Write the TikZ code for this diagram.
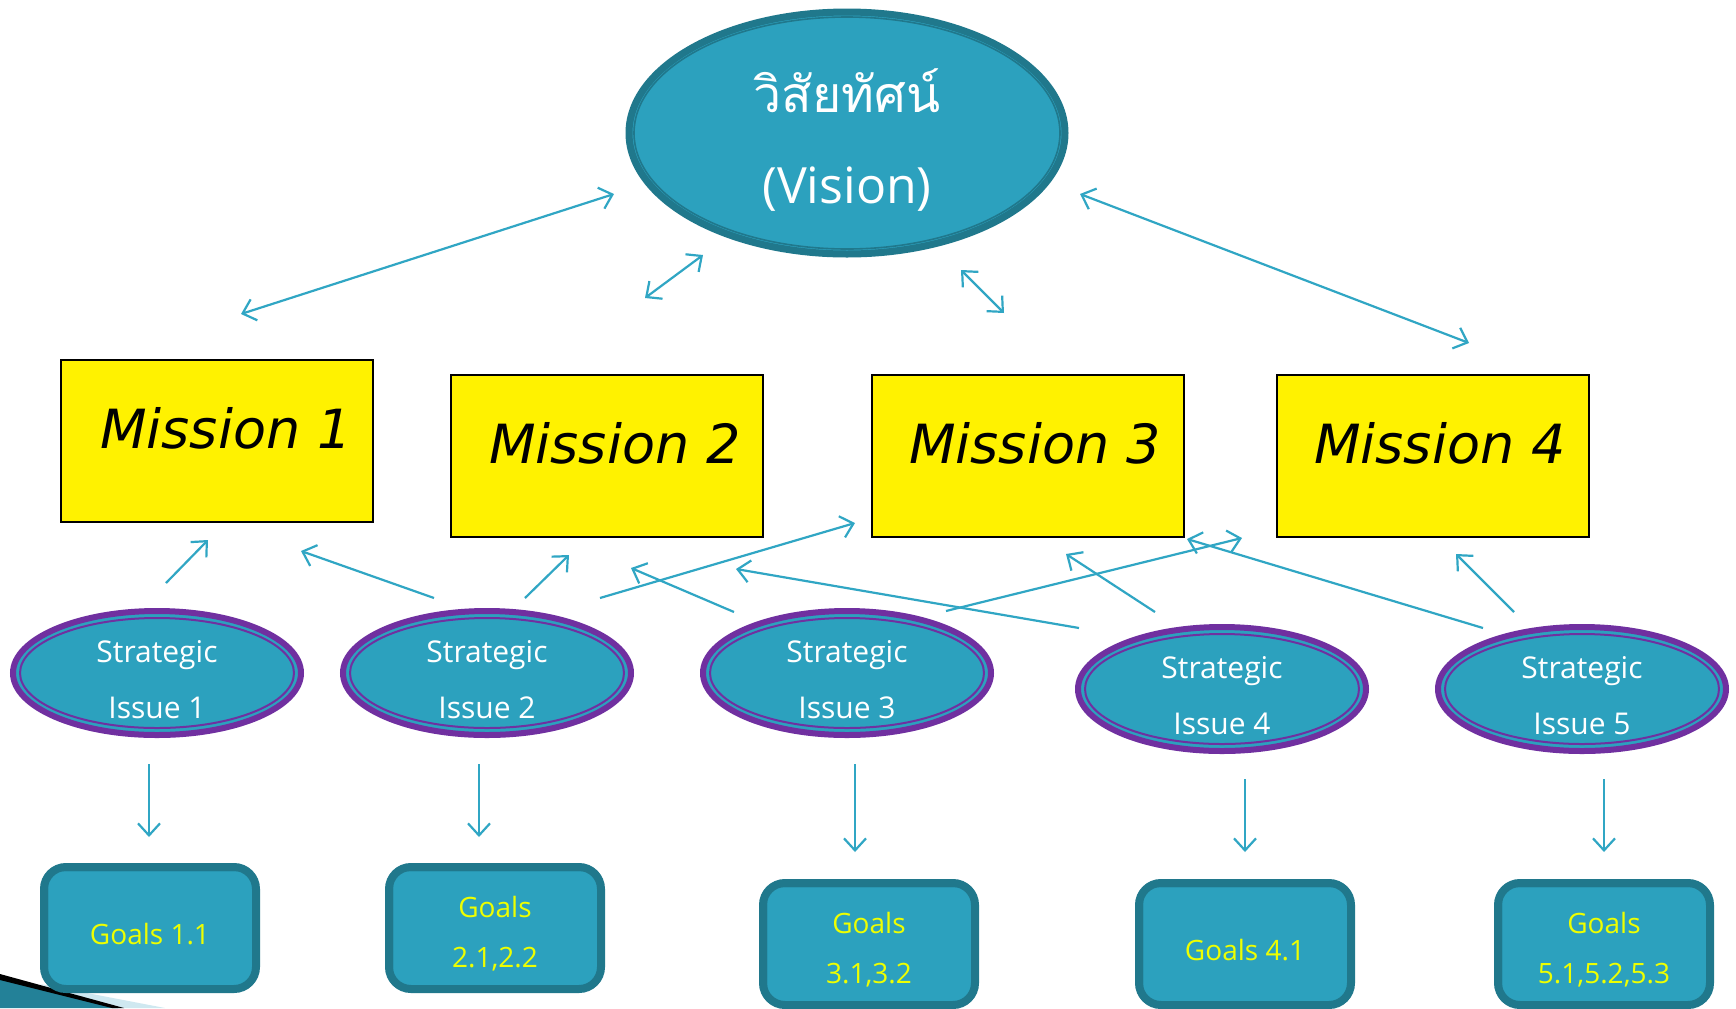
\documentclass[tikz,border=0pt]{standalone}
\usepackage{fontspec}
\setmainfont{Open Sans}
\newfontfamily\thaifont[Script=Thai]{Loma}
\newfontfamily\missionfont{DejaVu Sans}
\usetikzlibrary{shapes.geometric,arrows.meta}
\definecolor{tealfill}{HTML}{2CA1BE}
\definecolor{tealdark}{HTML}{20788C}
\definecolor{purp}{HTML}{7030A0}
\definecolor{arrcol}{HTML}{30A6C4}
\definecolor{goalyellow}{HTML}{EEFF00}
\definecolor{lightblue}{HTML}{CFE8F0}
\tikzset{
  visell/.style={ellipse, draw=tealdark, fill=tealfill, line width=3.5pt, inner sep=0pt,
    minimum width=218pt, minimum height=121pt},
  vistext/.style={text=white, inner sep=0pt},
  mbox/.style={rectangle, draw=black, fill=yellow, line width=1pt, inner sep=0pt,
    minimum width=156pt, minimum height=81pt},
  mtext/.style={font=\missionfont\itshape\fontsize{27pt}{30pt}\selectfont, text=black, inner sep=0pt},
  siell/.style={ellipse, draw=purp, fill=tealfill, line width=3pt, inner sep=0pt,
    minimum width=144pt, minimum height=62pt},
  sitext/.style={text=white, align=center, inner sep=0pt,
    font=\fontsize{15pt}{28pt}\selectfont},
  siinner/.style={draw=purp, line width=1pt},
  gbox/.style={rectangle, rounded corners=11pt, draw=tealdark, fill=tealfill, line width=4pt,
    inner sep=0pt, minimum width=106pt, minimum height=61pt},
  gtext/.style={text=goalyellow, align=center, inner sep=0pt,
    font=\fontsize{14pt}{25pt}\selectfont},
  ginner/.style={draw=tealdark, line width=1pt, rounded corners=7pt},
  conn/.style={draw=arrcol, line width=1.1pt, -{Straight Barb[length=6pt,width=11pt]}},
  biconn/.style={conn, {Straight Barb[length=6pt,width=11pt]}-{Straight Barb[length=6pt,width=11pt]}},
}
\begin{document}
\begin{tikzpicture}[x=0.5pt,y=-0.5pt]
\useasboundingbox (0,0) rectangle (1736,1008);
\fill[white] (0,0) rectangle (1736,1008);

% bottom-left decoration
\fill[lightblue] (40,984) -- (165,1008) -- (100,1008) -- cycle;
\fill[tealfill!80!black] (0,978) -- (118,1008) -- (0,1008) -- cycle;
\fill[black] (0,974) -- (124,1008) -- (112,1008) -- (0,980) -- cycle;

% Vision
\node[visell] (vision) at (847,133) {};
\draw[tealdark, line width=0.8pt] (vision.center) ellipse [x radius=213, y radius=116];
\node[vistext, font=\thaifont\fontsize{25pt}{30pt}\selectfont] (visth) at (847,91) {วิสัยทัศน์};
\node[vistext, font=\fontsize{25pt}{30pt}\selectfont] (visen) at (847,189) {(Vision)};

% Missions
\node[mbox] (m1) at (217,441) {};
\node[mbox] (m2) at (606.5,456) {};
\node[mbox] (m3) at (1027.5,456) {};
\node[mbox] (m4) at (1432.5,456) {};
\node[mtext] (m1t) at (226,428) {Mission 1};
\node[mtext] (m2t) at (615,443) {Mission 2};
\node[mtext] (m3t) at (1035,443) {Mission 3};
\node[mtext] (m4t) at (1440,443) {Mission 4};

% Strategic issues
\node[siell] (s1) at (157,673) {};
\node[siell] (s2) at (487,673) {};
\node[siell] (s3) at (847,673) {};
\node[siell] (s4) at (1222,689) {};
\node[siell] (s5) at (1582,689) {};
\foreach \s in {s1,s2,s3,s4,s5}{
  \draw[siinner] (\s.center) ellipse [x radius=137, y radius=55];
}
\node[sitext] (s1t) at (157,680) {Strategic\\Issue 1};
\node[sitext] (s2t) at (487,680) {Strategic\\Issue 2};
\node[sitext] (s3t) at (847,680) {Strategic\\Issue 3};
\node[sitext] (s4t) at (1222,696) {Strategic\\Issue 4};
\node[sitext] (s5t) at (1582,696) {Strategic\\Issue 5};

% Goals
\node[gbox] (g1) at (150,928) {};
\node[gbox] (g2) at (495,928) {};
\node[gbox] (g3) at (869,944) {};
\node[gbox] (g4) at (1245,944) {};
\node[gbox] (g5) at (1604,944) {};
\foreach \g in {g1,g2,g3,g4,g5}{
  \draw[ginner] ([shift={(7,7)}]\g.north west) rectangle ([shift={(-7,-7)}]\g.south east);
}
\node[gtext] (g1t) at (150,934) {Goals 1.1};
\node[gtext] (g2t) at (495,934) {Goals\\2.1,2.2};
\node[gtext] (g3t) at (869,950) {Goals\\3.1,3.2};
\node[gtext] (g4t) at (1245,950) {Goals 4.1};
\node[gtext] (g5t) at (1604,950) {Goals\\5.1,5.2,5.3};

% connector end points
\coordinate (a1s) at (241,314); \coordinate (a1e) at (614,194);
\coordinate (a2s) at (645,298); \coordinate (a2e) at (703,255);
\coordinate (a3s) at (961,270); \coordinate (a3e) at (1004,313);
\coordinate (a4s) at (1080,194); \coordinate (a4e) at (1469,343);
\coordinate (b1s) at (166,583); \coordinate (b1e) at (208,540);
\coordinate (b2s) at (434,598); \coordinate (b2e) at (301,551);
\coordinate (b3s) at (525,598); \coordinate (b3e) at (569,555);
\coordinate (b4s) at (600,598); \coordinate (b4e) at (855,523);
\coordinate (b5s) at (734,612); \coordinate (b5e) at (631,568);
\coordinate (b6s) at (1079,628); \coordinate (b6e) at (736,569);
\coordinate (b7s) at (946,611); \coordinate (b7e) at (1242,538);
\coordinate (b8s) at (1155,612); \coordinate (b8e) at (1066,554);
\coordinate (b9s) at (1483,628); \coordinate (b9e) at (1187,539);
\coordinate (b10s) at (1514,612); \coordinate (b10e) at (1456,554);
\coordinate (d1s) at (149,764); \coordinate (d1e) at (149,837);
\coordinate (d2s) at (479,764); \coordinate (d2e) at (479,837);
\coordinate (d3s) at (855,764); \coordinate (d3e) at (855,852);
\coordinate (d4s) at (1245,779); \coordinate (d4e) at (1245,852);
\coordinate (d5s) at (1604,779); \coordinate (d5e) at (1604,852);

\foreach \a in {a1,a2,a3,a4}{ \draw[biconn] (\a s) -- (\a e); }
\foreach \a in {b1,b2,b3,b4,b5,b6,b7,b8,b9,b10,d1,d2,d3,d4,d5}{ \draw[conn] (\a s) -- (\a e); }
\end{tikzpicture}
\end{document}
